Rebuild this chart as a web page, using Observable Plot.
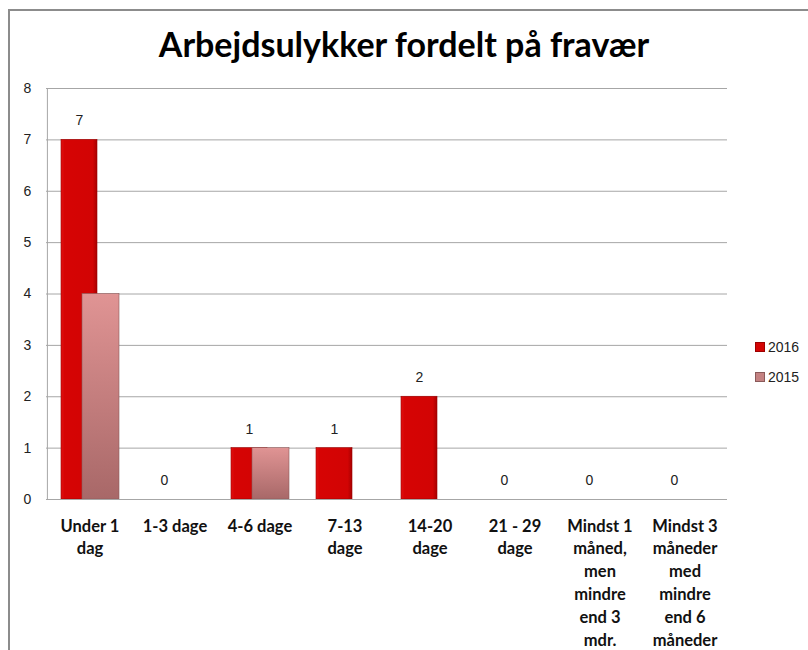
<!DOCTYPE html>
<html>
<head>
<meta charset="utf-8">
<script src="https://cdn.jsdelivr.net/npm/d3@7"></script>
<script src="https://cdn.jsdelivr.net/npm/@observablehq/plot@0.6"></script>
<style>
  html, body { margin: 0; padding: 0; background: #fff; }
  #wrap { position: relative; width: 808px; height: 650px; overflow: hidden; font-family: "Open Sans", sans-serif; }
  #frame { position: absolute; left: 8px; top: 9px; width: 900px; height: 700px; border-left: 2px solid #8c8c8c; border-top: 2px solid #8c8c8c; }
  #title { position: absolute; left: 0; width: 808px; top: 23px; text-align: center; font-family: "Lato", sans-serif; font-weight: 700; font-size: 34px; color: #000; letter-spacing: 0px; }
  #chart { position: absolute; left: 0; top: 0; }
  #legend { position: absolute; left: 755px; top: 332px; font-family: "Liberation Sans", sans-serif; font-size: 14px; color: #222; }
  .li { display: flex; align-items: center; height: 30px; }
  .sw { width: 10px; height: 10px; margin-right: 3px; }
</style>
</head>
<body>
<div id="wrap">
  <div id="frame"></div>
  <div id="chart"></div>
  <div id="title">Arbejdsulykker fordelt på fravær</div>
  <div id="legend"></div>
</div>
<script>
const categories = [
  "Under 1\ndag",
  "1-3 dage",
  "4-6 dage",
  "7-13\ndage",
  "14-20\ndage",
  "21 - 29\ndage",
  "Mindst 1\nmåned,\nmen\nmindre\nend 3\nmdr.",
  "Mindst 3\nmåneder\nmed\nmindre\nend 6\nmåneder"
];
const values2016 = [7, 0, 1, 1, 2, 0, 0, 0];
const values2015 = [4, 0, 1, 0, 0, 0, 0, 0];
const seriesNames = ["2016", "2015"];
const yTicks = [0, 1, 2, 3, 4, 5, 6, 7, 8];

const d2016 = categories.map((c, i) => ({cat: c, value: values2016[i]}));
const d2015 = categories.map((c, i) => ({cat: c, value: values2015[i]}));

const plot = Plot.plot({
  width: 808,
  height: 650,
  marginLeft: 46,
  marginRight: 81,
  marginTop: 88,
  marginBottom: 151,
  style: {background: "transparent", overflow: "visible"},
  x: {domain: categories, paddingInner: 0, paddingOuter: 0, label: null},
  y: {domain: [0, 8], label: null},
  marks: [
    Plot.gridY(yTicks, {stroke: "#a6a6a6", strokeOpacity: 1, strokeWidth: 1}),
    Plot.ruleX([0], {x: () => categories[0], dx: -42.6, y1: 0, y2: 8, stroke: "#a6a6a6"}),
    Plot.barY(d2016, {x: "cat", y: "value", fill: "url(#g2016)", stroke: "#9c0000", strokeWidth: 0.6, insetLeft: 14, insetRight: 35}),
    Plot.barY(d2015, {x: "cat", y: "value", fill: "url(#g2015)", stroke: "#8a5a5a", strokeWidth: 0.6, insetLeft: 35, insetRight: 13}),
    Plot.ruleY([0], {stroke: "#a6a6a6"}),
    Plot.text(d2016, {x: "cat", y: "value", text: d => String(d.value), dx: -10.6, dy: -19, fontSize: 14, fill: "#222", fontFamily: "Liberation Sans, sans-serif"}),
    Plot.axisY(yTicks, {tickSize: 0, tickPadding: 14, tickFormat: "d", fontSize: 14, fill: "#222", fontFamily: "Liberation Sans, sans-serif", textAnchor: "middle", dx: -5}),
    Plot.axisX({tickSize: 0, tickPadding: 16, fontSize: 16.5, fontWeight: "bold", fill: "#111", lineHeight: 1.38, fontFamily: "Lato, sans-serif"})
  ]
});

const svg = d3.select(plot);
const defs = svg.insert("defs", ":first-child");
const g1 = defs.append("linearGradient").attr("id", "g2016").attr("x1", 0).attr("x2", 1).attr("y1", 0).attr("y2", 0);
g1.append("stop").attr("offset", "0%").attr("stop-color", "#e01010");
g1.append("stop").attr("offset", "10%").attr("stop-color", "#d60404");
g1.append("stop").attr("offset", "88%").attr("stop-color", "#d20404");
g1.append("stop").attr("offset", "100%").attr("stop-color", "#a80000");
const g2 = defs.append("linearGradient").attr("id", "g2015").attr("x1", 0).attr("x2", 0).attr("y1", 0).attr("y2", 1);
g2.append("stop").attr("offset", "0%").attr("stop-color", "#e09494");
g2.append("stop").attr("offset", "100%").attr("stop-color", "#a86868");

document.getElementById("chart").appendChild(plot);

const legendColors = ["#d40404", "#c48282"];
const legend = document.getElementById("legend");
seriesNames.forEach((name, i) => {
  const row = document.createElement("div");
  row.className = "li";
  const sw = document.createElement("div");
  sw.className = "sw";
  sw.style.background = legendColors[i];
  sw.style.border = "1px solid " + (i === 0 ? "#9c0000" : "#8a5a5a");
  sw.style.boxSizing = "border-box";
  const t = document.createElement("span");
  t.textContent = name;
  row.appendChild(sw);
  row.appendChild(t);
  legend.appendChild(row);
});
</script>
</body>
</html>
